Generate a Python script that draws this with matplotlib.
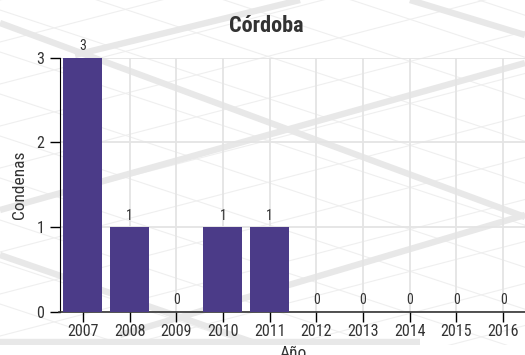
import numpy as np
import matplotlib
matplotlib.use('Agg')
import matplotlib.pyplot as plt

# datos
years = ['2007', '2008', '2009', '2010', '2011', '2012', '2013', '2014', '2015', '2016']
condenas = [3, 1, 0, 1, 1, 0, 0, 0, 0, 0]
y_ticks = [0, 1, 2, 3]

plt.rcParams['font.family'] = ['Roboto Condensed', 'Roboto', 'DejaVu Sans']

fig = plt.figure(figsize=(5.25, 3.55), dpi=100)

# fondo decorativo (en pixeles de la imagen)
bg = fig.add_axes([0, 10 / 355, 1, 345 / 355], zorder=0)
bg.set_xlim(0, 525)
bg.set_ylim(345, 0)
bg.axis('off')
xs = np.array([0, 525])
for c in np.arange(-200, 360, 42):
    bg.plot(xs, c + 0.33 * xs, color='#efefef', lw=0.8)
for c in np.arange(0, 520, 42):
    bg.plot(xs, c - 0.26 * xs, color='#efefef', lw=0.8)
thick = [((0, 23), (525, 217)), ((75, 55), (300, 0)), ((0, 210), (525, 63)),
         ((0, 255), (255, 343)), ((120, 335), (525, 215)), ((410, 0), (525, 35)),
         ((0, 342), (420, 342))]
for (x0, y0), (x1, y1) in thick:
    bg.plot([x0, x1], [y0, y1], color='#e8e8e8', lw=4.6, solid_capstyle='butt')

ax = fig.add_axes([59.5 / 525, 1 - 311.5 / 355, 467 / 525, 254 / 355], zorder=1)
ax.patch.set_alpha(0)
x = np.arange(len(years))
bars = ax.bar(x, condenas, width=0.835, color='#4b3b88', zorder=3)
ax.bar_label(bars, padding=3, fontsize=10, color='#333333')

ax.set_xlim(-0.5, 9.5)
ax.set_ylim(0, 3)
ax.set_xticks(x, years)
ax.set_yticks(y_ticks)
ax.grid(True, color='#e4e4e4', lw=1.3)
ax.set_axisbelow(True)
for s in ['top', 'right']:
    ax.spines[s].set_visible(False)
ax.spines['left'].set_color('black')
ax.spines['bottom'].set_color('#333333')
ax.spines['bottom'].set_linewidth(1.2)
ax.tick_params(axis='both', length=7, width=1, color='black', labelcolor='#333333', labelsize=11.5)
ax.tick_params(axis='x', pad=2)
ax.tick_params(axis='y', pad=4)

ax.set_ylabel('Condenas', fontsize=12.5, color='#333333')
ax.yaxis.set_label_coords(-0.07, 0.5)
ax.set_xlabel('Año', fontsize=12.5, color='#333333')
ax.xaxis.set_label_coords(0.5, -0.135)

fig.text(266 / 525, 1 - 32 / 355, 'Córdoba', ha='center', va='baseline',
         fontsize=16, fontweight='bold', color='#333333')

fig.savefig('out.png', dpi=100)
